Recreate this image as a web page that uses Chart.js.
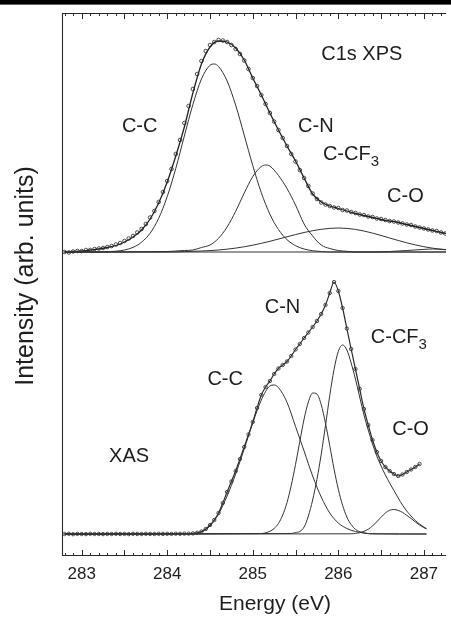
<!DOCTYPE html>
<html>
<head>
<meta charset="utf-8">
<script src="https://cdn.jsdelivr.net/npm/chart.js@4.4.1/dist/chart.umd.min.js"></script>
<style>
  html, body { margin: 0; padding: 0; background: #fff; overflow: hidden; }
  canvas { display: block; }
</style>
</head>
<body>
<canvas id="myChart" width="451" height="624"></canvas>
<script>
// C1s XPS (upper curves) and C K-edge XAS (lower curves), intensity in arb. units
const tickLabels = [283, 284, 285, 286, 287];

const xpsDataE = [282.80, 282.85, 282.90, 282.95, 283.00, 283.05, 283.10, 283.15, 283.20, 283.25,
  283.30, 283.35, 283.40, 283.45, 283.50, 283.55, 283.60, 283.65, 283.70, 283.75,
  283.80, 283.85, 283.90, 283.95, 284.00, 284.05, 284.10, 284.15, 284.20, 284.25,
  284.30, 284.35, 284.40, 284.45, 284.50, 284.55, 284.60, 284.65, 284.70, 284.75,
  284.80, 284.85, 284.90, 284.95, 285.00, 285.05, 285.10, 285.15, 285.20, 285.25,
  285.30, 285.35, 285.40, 285.45, 285.50, 285.55, 285.60, 285.65, 285.70, 285.75,
  285.80, 285.85, 285.90, 285.95, 286.00, 286.05, 286.10, 286.15, 286.20, 286.25,
  286.30, 286.35, 286.40, 286.45, 286.50, 286.55, 286.60, 286.65, 286.70, 286.75,
  286.80, 286.85, 286.90, 286.95, 287.00, 287.05, 287.10, 287.15, 287.20, 287.25];
const xpsDataI = [3.040, 3.035, 3.045, 3.050, 3.050, 3.060, 3.060, 3.070, 3.075, 3.080,
  3.090, 3.100, 3.115, 3.130, 3.150, 3.175, 3.200, 3.235, 3.270, 3.320,
  3.385, 3.450, 3.540, 3.640, 3.750, 3.870, 4.020, 4.160, 4.330, 4.500,
  4.670, 4.820, 4.950, 5.050, 5.110, 5.140, 5.160, 5.155, 5.140, 5.110,
  5.070, 5.020, 4.955, 4.870, 4.780, 4.700, 4.610, 4.520, 4.430, 4.345,
  4.260, 4.180, 4.100, 4.020, 3.945, 3.860, 3.780, 3.700, 3.625, 3.570,
  3.535, 3.515, 3.500, 3.485, 3.480, 3.460, 3.455, 3.440, 3.430, 3.415,
  3.410, 3.395, 3.390, 3.375, 3.370, 3.360, 3.350, 3.345, 3.335, 3.325,
  3.315, 3.310, 3.295, 3.285, 3.275, 3.265, 3.255, 3.250, 3.235, 3.225];

const xpsFitE = [282.8, 282.9, 283.0, 283.1, 283.2, 283.3, 283.4, 283.5, 283.6, 283.7,
  283.8, 283.9, 284.0, 284.1, 284.2, 284.3, 284.4, 284.5, 284.6, 284.7,
  284.8, 284.9, 285.0, 285.1, 285.2, 285.3, 285.4, 285.5, 285.6, 285.7,
  285.8, 285.9, 286.0, 286.1, 286.2, 286.3, 286.4, 286.5, 286.6, 286.7,
  286.8, 286.9, 287.0, 287.1, 287.2, 287.3];
const xpsFitI = [3.040, 3.045, 3.050, 3.060, 3.070, 3.085, 3.105, 3.140, 3.190, 3.260,
  3.370, 3.530, 3.740, 4.000, 4.290, 4.630, 4.920, 5.090, 5.150, 5.140,
  5.080, 4.960, 4.780, 4.610, 4.430, 4.260, 4.100, 3.950, 3.780, 3.620,
  3.540, 3.500, 3.475, 3.450, 3.425, 3.405, 3.385, 3.365, 3.350, 3.335,
  3.315, 3.295, 3.275, 3.255, 3.235, 3.220];

const xpsCcE = [282.8, 283.2, 283.4, 283.5, 283.6, 283.7, 283.8, 283.9, 284.0, 284.1,
  284.2, 284.3, 284.4, 284.5, 284.55, 284.6, 284.7, 284.8, 284.9, 285.0,
  285.1, 285.2, 285.3, 285.4, 285.5, 285.6, 285.7, 285.8, 285.9, 287.3];
const xpsCcI = [3.040, 3.040, 3.048, 3.060, 3.086, 3.138, 3.228, 3.377, 3.594, 3.876,
  4.200, 4.514, 4.770, 4.907, 4.920, 4.895, 4.750, 4.508, 4.209, 3.904,
  3.633, 3.418, 3.265, 3.164, 3.103, 3.070, 3.053, 3.045, 3.040, 3.040];

const xpsCnE = [282.8, 284.0, 284.1, 284.2, 284.3, 284.4, 284.5, 284.6, 284.7, 284.8,
  284.9, 285.0, 285.1, 285.15, 285.2, 285.3, 285.4, 285.5, 285.6, 285.7,
  285.8, 285.9, 286.0, 286.1, 286.2, 287.3];
const xpsCnI = [3.040, 3.045, 3.050, 3.055, 3.060, 3.085, 3.110, 3.177, 3.290, 3.447,
  3.629, 3.794, 3.895, 3.910, 3.899, 3.806, 3.675, 3.510, 3.320, 3.200,
  3.110, 3.075, 3.055, 3.047, 3.040, 3.040];

const xpsCcf3E = [282.8, 284.0, 284.2, 284.4, 284.6, 284.8, 285.0, 285.2, 285.4, 285.6,
  285.8, 286.0, 286.2, 286.4, 286.6, 286.8, 287.0, 287.2, 287.3];
const xpsCcf3I = [3.040, 3.040, 3.044, 3.050, 3.060, 3.079, 3.108, 3.147, 3.192, 3.235,
  3.267, 3.280, 3.266, 3.229, 3.180, 3.132, 3.093, 3.067, 3.058];

const xpsCoE = [282.8, 286.4, 286.6, 286.8, 287.0, 287.1, 287.2, 287.3];
const xpsCoI = [3.040, 3.040, 3.045, 3.055, 3.066, 3.070, 3.068, 3.062];

const xasDataE = [282.80, 282.85, 282.90, 282.95, 283.00, 283.05, 283.10, 283.15, 283.20, 283.25,
  283.30, 283.35, 283.40, 283.45, 283.50, 283.55, 283.60, 283.65, 283.70, 283.75,
  283.80, 283.85, 283.90, 283.95, 284.00, 284.05, 284.10, 284.15, 284.20, 284.25,
  284.30, 284.35, 284.40, 284.45, 284.50, 284.55, 284.60, 284.65, 284.70, 284.75,
  284.80, 284.85, 284.90, 284.95, 285.00, 285.05, 285.10, 285.15, 285.20, 285.25,
  285.30, 285.35, 285.40, 285.45, 285.50, 285.55, 285.60, 285.65, 285.70, 285.75,
  285.80, 285.85, 285.90, 285.95, 286.00, 286.05, 286.10, 286.15, 286.20, 286.25,
  286.30, 286.35, 286.40, 286.45, 286.50, 286.55, 286.60, 286.65, 286.70, 286.75,
  286.80, 286.85, 286.90, 286.95];
const xasDataI = [0.220, 0.222, 0.218, 0.221, 0.220, 0.219, 0.222, 0.220, 0.221, 0.219,
  0.221, 0.220, 0.222, 0.220, 0.221, 0.219, 0.222, 0.221, 0.220, 0.222,
  0.221, 0.220, 0.222, 0.221, 0.222, 0.221, 0.223, 0.222, 0.224, 0.224,
  0.226, 0.232, 0.245, 0.270, 0.310, 0.360, 0.430, 0.530, 0.640, 0.745,
  0.850, 0.970, 1.090, 1.215, 1.340, 1.480, 1.610, 1.690, 1.750, 1.820,
  1.875, 1.910, 1.945, 2.000, 2.065, 2.120, 2.180, 2.235, 2.290, 2.350,
  2.420, 2.510, 2.630, 2.740, 2.650, 2.480, 2.275, 2.070, 1.870, 1.670,
  1.470, 1.310, 1.160, 1.040, 0.950, 0.890, 0.850, 0.820, 0.800, 0.815,
  0.840, 0.865, 0.890, 0.920];

const xasCcE = [282.8, 284.3, 284.4, 284.5, 284.6, 284.7, 284.8, 284.9, 285.0, 285.1,
  285.2, 285.25, 285.3, 285.4, 285.5, 285.6, 285.7, 285.8, 285.9, 286.0,
  286.1, 286.2, 286.3, 286.4, 287.03];
const xasCcI = [0.220, 0.224, 0.240, 0.300, 0.420, 0.600, 0.820, 1.070, 1.330, 1.560,
  1.700, 1.710, 1.684, 1.537, 1.295, 1.050, 0.800, 0.590, 0.430, 0.330,
  0.275, 0.245, 0.230, 0.222, 0.220];

const xasCnE = [282.8, 285.1, 285.15, 285.2, 285.25, 285.3, 285.35, 285.4, 285.45, 285.5,
  285.55, 285.6, 285.65, 285.7, 285.75, 285.8, 285.85, 285.9, 285.95, 286.0,
  286.05, 286.1, 286.15, 286.2, 286.25, 286.3, 286.4, 287.03];
const xasCnI = [0.220, 0.225, 0.232, 0.247, 0.275, 0.325, 0.410, 0.534, 0.707, 0.916,
  1.146, 1.370, 1.540, 1.630, 1.620, 1.514, 1.327, 1.103, 0.870, 0.668,
  0.507, 0.389, 0.314, 0.267, 0.243, 0.230, 0.222, 0.220];

const xasCcf3E = [282.8, 285.45, 285.5, 285.55, 285.6, 285.65, 285.7, 285.75, 285.8, 285.85,
  285.9, 285.95, 286.0, 286.05, 286.1, 286.15, 286.2, 286.25, 286.3, 286.35,
  286.4, 286.45, 286.5, 286.55, 286.6, 286.65, 286.7, 286.75, 286.8, 286.85,
  286.9, 286.95, 287.0, 287.03];
const xasCcf3I = [0.220, 0.225, 0.235, 0.245, 0.290, 0.400, 0.560, 0.766, 1.016, 1.304,
  1.605, 1.865, 2.046, 2.110, 2.060, 1.930, 1.770, 1.590, 1.410, 1.260,
  1.120, 1.000, 0.900, 0.810, 0.730, 0.655, 0.580, 0.510, 0.450, 0.400,
  0.355, 0.320, 0.290, 0.275];

const xasCoE = [282.8, 286.15, 286.2, 286.25, 286.3, 286.35, 286.4, 286.45, 286.5, 286.55,
  286.6, 286.65, 286.7, 286.75, 286.8, 286.85, 286.9, 286.95, 287.0, 287.03];
const xasCoI = [0.220, 0.222, 0.226, 0.233, 0.247, 0.268, 0.301, 0.342, 0.388, 0.430,
  0.458, 0.465, 0.456, 0.436, 0.407, 0.375, 0.341, 0.310, 0.284, 0.270];

// text written on the plot, placed in energy / intensity units
const notes = [
  { text: "C1s XPS", e: 285.80, v: 4.96 },
  { text: "C-C", e: 283.47, v: 4.24 },
  { text: "C-N", e: 285.53, v: 4.24 },
  { text: "C-CF", sub: "3", e: 285.82, v: 3.96 },
  { text: "C-O", e: 286.57, v: 3.54 },
  { text: "C-N", e: 285.14, v: 2.43 },
  { text: "C-CF", sub: "3", e: 286.38, v: 2.13 },
  { text: "C-C", e: 284.47, v: 1.71 },
  { text: "C-O", e: 286.63, v: 1.21 },
  { text: "XAS", e: 283.32, v: 0.94 },
];

const FONT = "'Liberation Sans', Arial, Helvetica, sans-serif";
const INK = "#1e1e1e";

function pts(es, is) {
  return es.map((e, i) => ({ x: e, y: is[i] }));
}

function component(es, is) {
  return {
    data: pts(es, is),
    borderColor: "#333",
    borderWidth: 1,
    pointRadius: 0,
    fill: false,
    cubicInterpolationMode: "monotone",
  };
}

// frame, inward ticks, black rule, labels
const decorations = {
  id: "decorations",
  beforeDraw(chart) {
    const ctx = chart.ctx;
    ctx.save();
    ctx.fillStyle = "#fff";
    ctx.fillRect(0, 0, chart.width, chart.height);
    ctx.fillStyle = "#000";
    ctx.fillRect(0, 0, chart.width, 4.6);
    ctx.restore();
  },
  afterDatasetsDraw(chart) {
    const { ctx, chartArea: a, scales } = chart;
    const xs = scales.x;
    const ys = scales.y;
    ctx.save();
    ctx.strokeStyle = "#2a2a2a";
    ctx.lineWidth = 1.1;
    ctx.beginPath();
    ctx.moveTo(a.left + 0.5, a.bottom);
    ctx.lineTo(a.left + 0.5, a.top);
    ctx.moveTo(a.left, a.top + 0.5);
    ctx.lineTo(a.right, a.top + 0.5);
    ctx.moveTo(a.left, a.bottom - 0.5);
    ctx.lineTo(a.right, a.bottom - 0.5);
    ctx.stroke();

    // minor ticks every 0.1 eV, longer ones every 0.5 eV
    ctx.lineWidth = 1;
    ctx.beginPath();
    for (let k = 2828; k <= 2872; k++) {
      const px = Math.round(xs.getPixelForValue(k / 10)) + 0.5;
      const len = k % 5 === 0 ? 6 : 3;
      ctx.moveTo(px, a.top);
      ctx.lineTo(px, a.top + len);
      ctx.moveTo(px, a.bottom);
      ctx.lineTo(px, a.bottom - len);
    }
    ctx.stroke();

    ctx.fillStyle = INK;
    ctx.textBaseline = "alphabetic";
    ctx.textAlign = "left";
    notes.forEach((n) => {
      const px = xs.getPixelForValue(n.e);
      const py = ys.getPixelForValue(n.v);
      ctx.font = "20px " + FONT;
      ctx.fillText(n.text, px, py);
      if (n.sub) {
        const w = ctx.measureText(n.text).width;
        ctx.font = "15px " + FONT;
        ctx.fillText(n.sub, px + w, py + 6);
      }
    });

    // axis titles
    ctx.font = "21px " + FONT;
    ctx.textAlign = "center";
    ctx.fillText("Energy (eV)", 275, 610);
    ctx.translate(26, 276);
    ctx.rotate(-Math.PI / 2);
    ctx.font = "25px " + FONT;
    ctx.textBaseline = "middle";
    ctx.fillText("Intensity (arb. units)", 0, 0);
    ctx.restore();
  },
};

const ctx = document.getElementById("myChart").getContext("2d");

new Chart(ctx, {
  type: "line",
  data: {
    datasets: [
      component(xpsCcE, xpsCcI),
      component(xpsCnE, xpsCnI),
      component(xpsCcf3E, xpsCcf3I),
      component(xpsCoE, xpsCoI),
      {
        // XPS fit envelope
        data: pts(xpsFitE, xpsFitI),
        borderColor: "#222",
        borderWidth: 1.3,
        pointRadius: 0,
        fill: false,
        cubicInterpolationMode: "monotone",
      },
      {
        // XPS measured points
        data: pts(xpsDataE, xpsDataI),
        showLine: false,
        pointRadius: 1.8,
        pointBorderWidth: 0.9,
        pointBorderColor: "#3a3a3a",
        pointBackgroundColor: "rgba(255,255,255,0)",
      },
      component(xasCcE, xasCcI),
      component(xasCnE, xasCnI),
      component(xasCcf3E, xasCcf3I),
      component(xasCoE, xasCoI),
      {
        // XAS measured points
        data: pts(xasDataE, xasDataI),
        borderColor: "#2a2a2a",
        borderWidth: 1.2,
        cubicInterpolationMode: "monotone",
        pointRadius: 1.7,
        pointBorderWidth: 0.9,
        pointBorderColor: "#3a3a3a",
        pointBackgroundColor: "rgba(255,255,255,0)",
        fill: false,
      },
    ],
  },
  options: {
    responsive: false,
    animation: false,
    devicePixelRatio: 1,
    layout: { padding: { top: 13, left: 0, right: 0, bottom: 0 } },
    plugins: { legend: { display: false }, tooltip: { enabled: false } },
    scales: {
      x: {
        type: "linear",
        min: 282.77,
        max: 287.26,
        afterBuildTicks: (s) => {
          s.ticks = tickLabels.map((v) => ({ value: v }));
        },
        afterFit: (s) => {
          s.height = 68;
        },
        grid: { display: false, drawTicks: false },
        border: { display: false },
        ticks: {
          autoSkip: false,
          maxRotation: 0,
          padding: 8,
          color: INK,
          font: { family: FONT, size: 17 },
        },
      },
      y: {
        min: 0,
        max: 5.43,
        afterFit: (s) => {
          s.width = 62;
        },
        ticks: { display: false },
        grid: { display: false },
        border: { display: false },
      },
    },
  },
  plugins: [decorations],
});
</script>
</body>
</html>
